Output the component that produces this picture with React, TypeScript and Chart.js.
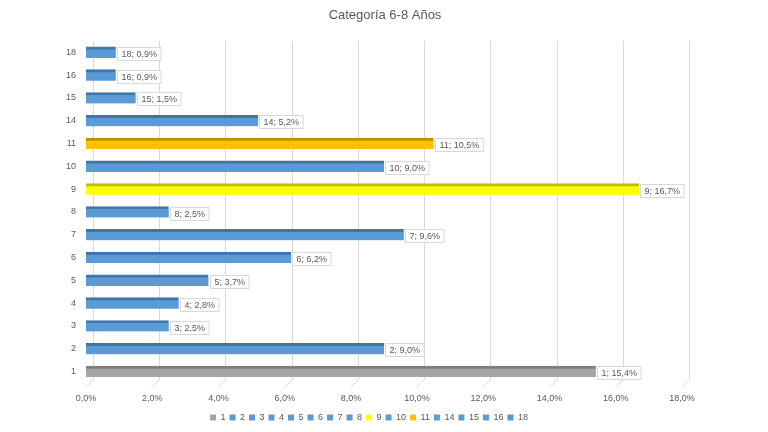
import React, { useEffect, useRef } from "react";
import { Chart, registerables } from "chart.js";

Chart.register(...registerables);

const categories = ["1", "2", "3", "4", "5", "6", "7", "8", "9", "10", "11", "14", "15", "16", "18"];
const values = [15.4, 9.0, 2.5, 2.8, 3.7, 6.2, 9.6, 2.5, 16.7, 9.0, 10.5, 5.2, 1.5, 0.9, 0.9];
const faceColors = [
  "#A5A5A5", "#5B9BD5", "#5B9BD5", "#5B9BD5", "#5B9BD5", "#5B9BD5", "#5B9BD5", "#5B9BD5",
  "#FFFF00", "#5B9BD5", "#FFC000", "#5B9BD5", "#5B9BD5", "#5B9BD5", "#5B9BD5",
];
const topColors = [
  "#7F7F7F", "#3F75A8", "#3F75A8", "#3F75A8", "#3F75A8", "#3F75A8", "#3F75A8", "#3F75A8",
  "#BFBF00", "#3F75A8", "#C09000", "#3F75A8", "#3F75A8", "#3F75A8", "#3F75A8",
];
const xTicks = [0, 2, 4, 6, 8, 10, 12, 14, 16, 18];
const title = "Categoría 6-8 Años";

const FONT = "'Liberation Sans', 'DejaVu Sans', sans-serif";
const TEXT = "#595959";
const DEPTH = 7;

const fmt = (v: number) => v.toFixed(1).replace(".", ",") + "%";

const titlePlugin = {
  id: "centerTitle",
  afterDraw(chart: any) {
    const { ctx, width } = chart;
    ctx.save();
    ctx.font = `13px ${FONT}`;
    ctx.fillStyle = TEXT;
    ctx.textAlign = "center";
    ctx.textBaseline = "middle";
    ctx.fillText(title, width / 2 + 1, 15);
    ctx.restore();
  },
};

const gridPlugin = {
  id: "grid3d",
  beforeDatasetsDraw(chart: any) {
    const { ctx, chartArea, scales } = chart;
    const x = scales.x;
    ctx.save();
    ctx.strokeStyle = "#D9D9D9";
    ctx.lineWidth = 1;
    xTicks.forEach((t) => {
      const px = Math.round(x.getPixelForValue(t)) + 0.5;
      ctx.beginPath();
      ctx.moveTo(px + DEPTH, chartArea.top);
      ctx.lineTo(px + DEPTH, chartArea.bottom - DEPTH / 2);
      ctx.lineTo(px - 1, chartArea.bottom + DEPTH / 2 + 1);
      ctx.stroke();
    });
    ctx.restore();
  },
};

const labelPlugin = {
  id: "barLabels",
  afterDatasetsDraw(chart: any) {
    const { ctx } = chart;
    const meta = chart.getDatasetMeta(0);
    ctx.save();
    ctx.font = `9px ${FONT}`;
    ctx.textBaseline = "middle";
    meta.data.forEach((bar: any, i: number) => {
      const text = `${categories[i]}; ${fmt(values[i])}`;
      const w = ctx.measureText(text).width + 8;
      const h = 13;
      const bx = Math.round(bar.x + 1) + 0.5;
      const by = Math.round(bar.y - h / 2 + 1) + 0.5;
      ctx.fillStyle = "#FFFFFF";
      ctx.fillRect(bx, by, w, h);
      ctx.strokeStyle = "#D9D9D9";
      ctx.lineWidth = 1;
      ctx.strokeRect(bx, by, w, h);
      ctx.fillStyle = TEXT;
      ctx.fillText(text, bx + 4, by + h / 2 + 0.5);
    });
    ctx.restore();
  },
};

export default function App() {
  const ref = useRef<HTMLCanvasElement>(null);
  useEffect(() => {
    document.body.style.margin = "0";
    const chart = new Chart(ref.current as HTMLCanvasElement, {
      type: "bar",
      data: {
        labels: categories,
        datasets: [
          {
            data: values,
            backgroundColor: faceColors,
            borderColor: topColors,
            borderWidth: { top: 3, left: 0, right: 0, bottom: 0 },
            borderSkipped: false,
            barThickness: 11,
          },
        ],
      },
      options: {
        indexAxis: "y",
        animation: false,
        responsive: false,
        maintainAspectRatio: false,
        layout: { padding: { left: 56, right: 86, top: 41, bottom: 0 } },
        plugins: {
          title: { display: false },
          legend: {
            position: "bottom",
            labels: {
              color: TEXT,
              font: { family: FONT, size: 9 },
              boxWidth: 6,
              boxHeight: 6,
              padding: 4,
              generateLabels: () =>
                categories.map((c, i) => ({
                  text: c,
                  fillStyle: faceColors[i],
                  strokeStyle: faceColors[i],
                  lineWidth: 0,
                  hidden: false,
                  index: i,
                  fontColor: TEXT,
                })),
            },
          },
          tooltip: { enabled: false },
        },
        scales: {
          x: {
            min: 0,
            max: 18,
            afterBuildTicks: (s: any) => {
              s.ticks = xTicks.map((v) => ({ value: v }));
            },
            afterFit: (s: any) => {
              s.height = 26;
            },
            ticks: {
              color: TEXT,
              font: { family: FONT, size: 9 },
              callback: (v: any) => fmt(Number(v)),
              padding: 10,
              maxRotation: 0,
            },
            grid: { display: false, drawTicks: false },
            border: { display: false },
          },
          y: {
            reverse: true,
            afterFit: (s: any) => {
              s.width = 30;
            },
            ticks: { color: TEXT, font: { family: FONT, size: 9 }, padding: 2 },
            grid: { display: false },
            border: { display: false },
          },
        },
      },
      plugins: [gridPlugin, labelPlugin, titlePlugin],
    } as any);
    return () => chart.destroy();
  }, []);
  return (
    <div style={{ width: 768, height: 432 }}>
      <canvas ref={ref} width={768} height={432} />
    </div>
  );
}
